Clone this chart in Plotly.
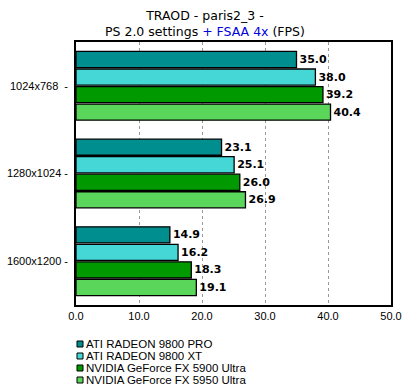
import plotly.graph_objects as go

categories = ["1024x768  -", "1280x1024 -", "1600x1200 -"]
series_names = ["ATI RADEON 9800 PRO", "ATI RADEON 9800 XT",
                "NVIDIA GeForce FX 5900 Ultra", "NVIDIA GeForce FX 5950 Ultra"]
pro = [35.0, 23.1, 14.9]
xt = [38.0, 25.1, 16.2]
fx5900 = [39.2, 26.0, 18.3]
fx5950 = [40.4, 26.9, 19.1]
colors = ["#008E8E", "#45D6D6", "#009900", "#5AD65A"]
tick_vals = [0, 10, 20, 30, 40, 50]
tick_text = ["0.0", "10.0", "20.0", "30.0", "40.0", "50.0"]

fig = go.Figure()
for name, vals, col in zip(series_names, [pro, xt, fx5900, fx5950], colors):
    fig.add_trace(go.Bar(
        y=categories, x=vals, name=name, orientation="h",
        marker=dict(color=col, line=dict(color="black", width=1.3)),
        text=vals, texttemplate="%{x:.1f}", textposition="outside",
        textfont=dict(family="DejaVu Sans", size=11, color="black", weight="bold"),
        cliponaxis=False, showlegend=False,
    ))

# manual compact legend (Plotly's own legend has a 19px minimum row height)
shapes = []
annotations = []
plot_h = 390 - 42 - 85
for i, (name, col) in enumerate(zip(series_names, colors)):
    yc = -(39 + 12 * i) / plot_h
    shapes.append(dict(type="rect", xref="paper", yref="paper",
                       xsizemode="pixel", ysizemode="pixel",
                       xanchor=0, yanchor=yc, x0=1, x1=7, y0=-3, y1=3,
                       fillcolor=col, line=dict(color="black", width=1)))
    annotations.append(dict(text=name, xref="paper", yref="paper", x=0, y=yc,
                            xshift=8, xanchor="left", yanchor="middle", showarrow=False,
                            font=dict(family="Liberation Sans", size=11.5, color="black")))

annotations.append(dict(
    text="TRAOD - paris2_3 -<br>PS 2.0 settings <span style='color:#0000DD'>+ FSAA 4x</span> (FPS)",
    x=0.41, xref="paper", xanchor="center", y=1, yref="paper", yanchor="bottom",
    yshift=1, showarrow=False, font=dict(family="DejaVu Sans", size=12.5, color="black"),
))

fig.update_layout(
    template="none",
    width=409, height=390,
    margin=dict(l=76, r=18, t=42, b=85, autoexpand=False),
    paper_bgcolor="white", plot_bgcolor="white",
    barmode="group", bargap=0.2, bargroupgap=0.08,
    font=dict(family="Liberation Sans", size=11, color="black"),
    showlegend=False,
    shapes=shapes,
    annotations=annotations,
)
fig.update_xaxes(range=[0, 50], tickvals=tick_vals, ticktext=tick_text, automargin=False,
                 showgrid=True, gridcolor="#999999", griddash="dot", gridwidth=1,
                 showline=True, linecolor="black", linewidth=1.5, mirror=True,
                 ticks="", zeroline=False, fixedrange=True)
fig.update_yaxes(autorange="reversed", showline=True, linecolor="black", linewidth=1.5,
                 automargin=False, mirror=True, ticks="", showgrid=False, ticklabelstandoff=4)

fig.write_html("out.html")
